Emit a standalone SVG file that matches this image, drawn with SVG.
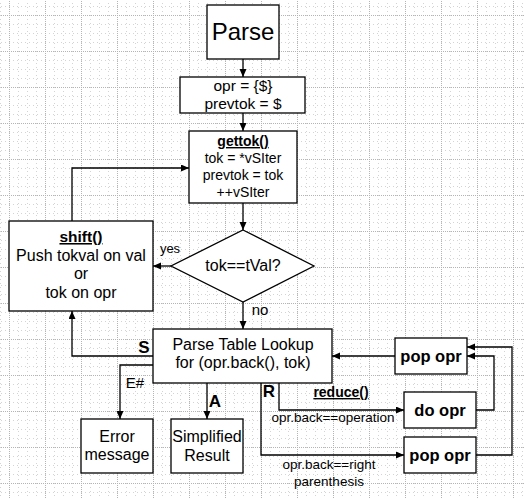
<svg xmlns="http://www.w3.org/2000/svg" width="524" height="498" viewBox="0 0 524 498">
<defs>
<pattern id="grid" patternUnits="userSpaceOnUse" x="9" y="15" width="36" height="36">
<rect width="36" height="36" fill="#ffffff"/>
<g stroke="#d4d4d4" stroke-width="1" stroke-dasharray="1 3">
<line x1="9.5" y1="0" x2="9.5" y2="36"/><line x1="18.5" y1="0" x2="18.5" y2="36"/><line x1="27.5" y1="0" x2="27.5" y2="36"/>
<line x1="0" y1="9.5" x2="36" y2="9.5"/><line x1="0" y1="18.5" x2="36" y2="18.5"/><line x1="0" y1="27.5" x2="36" y2="27.5"/>
</g>
<g stroke="#b4b4b4" stroke-width="1" stroke-dasharray="1 1">
<line x1="0.5" y1="0" x2="0.5" y2="36"/><line x1="0" y1="0.5" x2="36" y2="0.5"/>
</g>
</pattern>
<marker id="ah" markerUnits="userSpaceOnUse" markerWidth="9" markerHeight="8" refX="8" refY="3.5" orient="auto">
<path d="M0,0 L8,3.5 L0,7 z" fill="#000"/>
</marker>
<style>
.box{fill:#fff;stroke:#000;stroke-width:1.3}
.t{font-family:"Liberation Sans",Arial,sans-serif;fill:#000;text-anchor:middle}
.b{font-weight:bold}
.u{text-decoration:underline}
.c{fill:none;stroke:#000;stroke-width:1.3;marker-end:url(#ah)}
.l{fill:none;stroke:#000;stroke-width:1.3}
</style>
</defs>
<rect width="524" height="498" fill="url(#grid)"/>

<g id="connectors">
<path class="c" d="M243,59 V77"/>
<path class="c" d="M243,113 V131"/>
<path class="c" d="M243,203 V230"/>
<path class="c" d="M171,266 H153"/>
<path class="c" d="M72,221 V168 H189"/>
<path class="c" d="M243,302 V329"/>
<path class="c" d="M153,356 H72 V311"/>
<path class="c" d="M153,365 H120 V419"/>
<path class="c" d="M207,383 V419"/>
<path class="c" d="M279,383 V410 H404"/>
<path class="c" d="M261,383 V455 H404"/>
<path class="c" d="M395,356 H332"/>
<path class="c" d="M476,410 H494 V356 H467"/>
<path class="c" d="M476,455 H512 V347 H467"/>
</g>

<g id="parse">
<rect class="box" x="207" y="5" width="72" height="54"/>
<text class="t" x="243" y="40" font-size="24">Parse</text>
</g>
<g id="init">
<rect class="box" x="180" y="77" width="125" height="36"/>
<text class="t" x="243" y="91" font-size="15.5">opr = {$}</text>
<text class="t" x="243" y="109" font-size="15.5">prevtok = $</text>
</g>
<g id="gettok">
<rect class="box" x="189" y="131" width="108" height="72"/>
<text class="t b u" x="243" y="146" font-size="14">gettok()</text>
<text class="t" x="243" y="163" font-size="14">tok = *vSIter</text>
<text class="t" x="243" y="180" font-size="14">prevtok = tok</text>
<text class="t" x="243" y="197" font-size="14">++vSIter</text>
</g>
<g id="decision">
<polygon class="box" points="243,230 314,266 243,302 171,266"/>
<text class="t" x="243" y="271" font-size="16">tok==tVal?</text>
<text class="t" x="170" y="253" font-size="13">yes</text>
<text class="t" x="260" y="315" font-size="15">no</text>
</g>
<g id="shift">
<rect class="box" x="9" y="221" width="144" height="90"/>
<text class="t b u" x="81" y="242" font-size="15.5">shift()</text>
<text class="t" x="81" y="261" font-size="16">Push tokval on val</text>
<text class="t" x="81" y="279" font-size="16">or</text>
<text class="t" x="81" y="298" font-size="16">tok on opr</text>
</g>
<g id="lookup">
<rect class="box" x="153" y="329" width="179" height="54"/>
<text class="t" x="243" y="350" font-size="16">Parse Table Lookup</text>
<text class="t" x="243" y="368" font-size="16">for (opr.back(), tok)</text>
<text class="t b" x="144" y="353" font-size="17">S</text>
<text class="t" x="135" y="388" font-size="15">E#</text>
<text class="t b" x="215" y="407" font-size="17">A</text>
<text class="t b" x="269" y="397" font-size="17">R</text>
<text class="t b u" x="341" y="397" font-size="14">reduce()</text>
<text class="t" x="333" y="422" font-size="13.5">opr.back==operation</text>
<text class="t" x="329" y="469" font-size="13.5">opr.back==right</text>
<text class="t" x="329" y="486" font-size="13.5">parenthesis</text>
</g>
<g id="error">
<rect class="box" x="81" y="419" width="72" height="54"/>
<text class="t" x="117" y="442" font-size="16">Error</text>
<text class="t" x="117" y="460" font-size="16">message</text>
</g>
<g id="result">
<rect class="box" x="171" y="419" width="72" height="54"/>
<text class="t" x="207" y="442" font-size="16">Simplified</text>
<text class="t" x="207" y="461" font-size="16">Result</text>
</g>
<g id="popopr1">
<rect class="box" x="395" y="338" width="72" height="36"/>
<text class="t b" x="431" y="362" font-size="16.5">pop opr</text>
</g>
<g id="doopr">
<rect class="box" x="404" y="392" width="72" height="36"/>
<text class="t b" x="440" y="416" font-size="16.5">do opr</text>
</g>
<g id="popopr2">
<rect class="box" x="404" y="437" width="72" height="36"/>
<text class="t b" x="440" y="461" font-size="16.5">pop opr</text>
</g>
</svg>
